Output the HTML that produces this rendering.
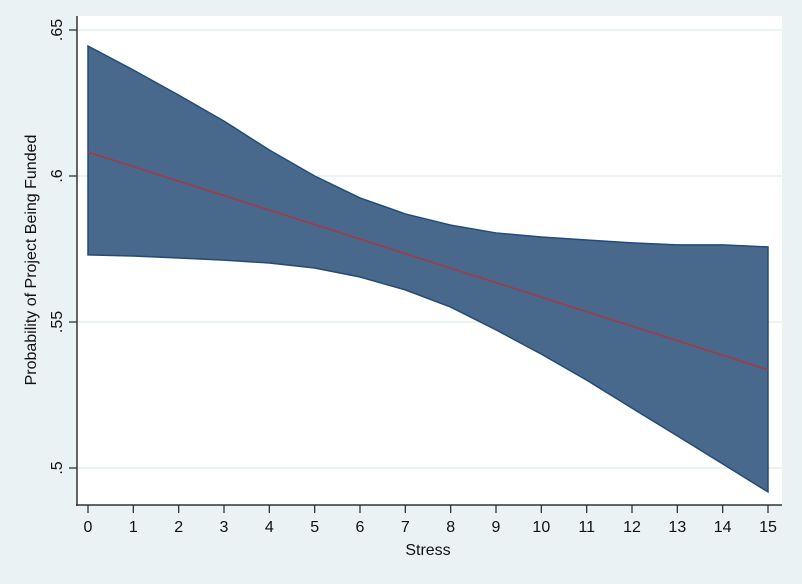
<!DOCTYPE html>
<html><head><meta charset="utf-8"><style>
body{margin:0;background:#eaf2f3;}
svg{display:block;font-family:"Liberation Sans",Arial,sans-serif;}
</style></head><body>
<svg id="chart" width="802" height="584" viewBox="0 0 802 584" xmlns="http://www.w3.org/2000/svg">
<rect x="0" y="0" width="802" height="584" fill="#eaf2f3"/>
<rect x="77" y="16" width="705" height="489" fill="#ffffff"/>
<g id="grid"></g>
<g id="marks"></g>
<g id="axes"></g>
<text x="428" y="555" font-size="16" text-anchor="middle" fill="#111">Stress</text>
<text transform="translate(36,260) rotate(-90)" font-size="16" text-anchor="middle" fill="#111">Probability of Project Being Funded</text>
</svg>
<script>
const xValues=[0,1,2,3,4,5,6,7,8,9,10,11,12,13,14,15];
const upperCI=[.6445,.6363,.6277,.6188,.6089,.6,.5925,.587,.5832,.5805,.5791,.5781,.5771,.5764,.5764,.5757];
const lowerCI=[.573,.5726,.5719,.5712,.5702,.5685,.5654,.561,.5551,.5473,.539,.5301,.5205,.511,.5014,.4918];
const meanPred=[.6082,.6032,.5982,.5933,.5883,.5834,.5784,.5734,.5684,.5635,.5585,.5535,.5486,.5436,.5386,.5336];
const yTicks=[.5,.55,.6,.65];
const yTickLabels=[".5",".55",".6",".65"];
const xTicks=[0,1,2,3,4,5,6,7,8,9,10,11,12,13,14,15];
const NS="http://www.w3.org/2000/svg";
const sx=v=>88+v*(768-88)/15;
const sy=v=>30+(0.65-v)*2920;
function mk(tag,attrs,parent){const e=document.createElementNS(NS,tag);for(const k in attrs)e.setAttribute(k,attrs[k]);parent.appendChild(e);return e;}
const grid=document.getElementById('grid'),marks=document.getElementById('marks'),axes=document.getElementById('axes');
yTicks.forEach(t=>{const l=mk('line',{x1:77,x2:782,y1:sy(t),y2:sy(t),stroke:'#e6eff2','stroke-width':1.5},grid);

});
let pts=xValues.map((x,i)=>sx(x)+','+sy(upperCI[i]));
for(let i=xValues.length-1;i>=0;i--)pts.push(sx(xValues[i])+','+sy(lowerCI[i]));
const band=mk('polygon',{points:pts.join(' '),fill:'#49698c',stroke:'#234b77','stroke-width':1.5},marks);


const line=mk('polyline',{points:xValues.map((x,i)=>sx(x)+','+sy(meanPred[i])).join(' '),fill:'none',stroke:'#a33a48','stroke-width':1.6},marks);


const ya=mk('line',{x1:77,x2:77,y1:16,y2:506,stroke:'#333','stroke-width':1.5},axes);


const xa=mk('line',{x1:76,x2:782,y1:505,y2:505,stroke:'#333','stroke-width':1.5},axes);


yTicks.forEach((t,i)=>{const tk=mk('line',{x1:69,x2:77,y1:sy(t),y2:sy(t),stroke:'#333','stroke-width':1.3},axes);


const tx=mk('text',{transform:`translate(62,${sy(t)}) rotate(-90)`,'font-size':16,'text-anchor':'middle',fill:'#111'},axes);
tx.textContent=yTickLabels[i];

});
xTicks.forEach(t=>{const tk=mk('line',{x1:sx(t),x2:sx(t),y1:505,y2:513,stroke:'#333','stroke-width':1.3},axes);


const tx=mk('text',{x:sx(t),y:532,'font-size':16,'text-anchor':'middle',fill:'#111'},axes);
tx.textContent=String(t);

});
</script>
</body></html>
